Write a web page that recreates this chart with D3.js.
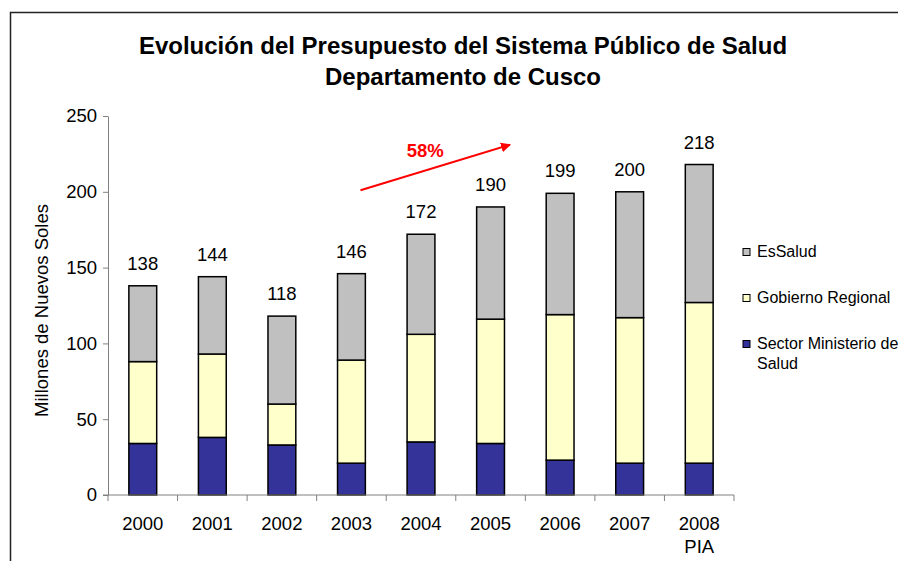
<!DOCTYPE html>
<html>
<head>
<meta charset="utf-8">
<script src="https://cdn.jsdelivr.net/npm/d3@7"></script>
<style>
  body { margin: 0; background: #fff; }
  svg { display: block; font-family: "Liberation Sans", Arial, sans-serif; }
</style>
</head>
<body>
<div id="chart"></div>
<script>
// Datos (millones de nuevos soles)
const years = ['2000', '2001', '2002', '2003', '2004', '2005', '2006', '2007', '2008'];
const yearSub = ['', '', '', '', '', '', '', '', 'PIA'];
const minsa = [34, 38, 33, 21, 35, 34, 23, 21, 21];
const gobierno = [54, 55, 27, 68, 71, 82, 96, 96, 106];
const essalud = [50, 51, 58, 57, 66, 74, 80, 83, 91];
const yTicks = [0, 50, 100, 150, 200, 250];

const seriesNames = ['Sector Ministerio de Salud', 'Gobierno Regional', 'EsSalud'];
const seriesColors = ['#333399', '#FFFFCC', '#C0C0C0'];

// flecha de crecimiento, en unidades de categoria / valor
const arrowFrom = [3.63, 201];
const arrowTo = [5.78, 231];
const arrowLabel = '58%';

const W = 898, H = 561;
const plot = { left: 108, right: 734, top: 116, bottom: 495 };

const svg = d3.select('#chart').append('svg')
  .attr('width', W)
  .attr('height', H);

// marco del grafico
svg.append('path')
  .attr('d', `M10.5,${H + 5} V12.5 H${W + 5}`)
  .attr('fill', 'none')
  .attr('stroke', '#222')
  .attr('stroke-width', 1.5);

// titulo
const title = svg.append('text')
  .attr('text-anchor', 'middle')
  .attr('font-weight', 'bold')
  .attr('font-size', 24)
  .attr('fill', '#000');
title.append('tspan').attr('x', 463).attr('y', 54).text('Evolución del Presupuesto del Sistema Público de Salud');
title.append('tspan').attr('x', 463).attr('y', 85).text('Departamento de Cusco');

const x = d3.scaleBand()
  .domain(years)
  .range([plot.left, plot.right])
  .paddingInner(0.6)
  .paddingOuter(0.3);

const xIdx = d3.scaleLinear()
  .domain([0, years.length])
  .range([plot.left, plot.right]);

const y = d3.scaleLinear()
  .domain([0, 250])
  .range([plot.bottom, plot.top]);

const table = years.map((yr, i) => ({ year: yr, minsa: minsa[i], gobierno: gobierno[i], essalud: essalud[i] }));
const stack = d3.stack().keys(['minsa', 'gobierno', 'essalud']);
const layers = stack(table);

// eje Y
const yAxis = svg.append('g')
  .attr('transform', `translate(${plot.left},0)`)
  .call(d3.axisLeft(y).tickValues(yTicks).tickSize(5).tickPadding(6).tickSizeOuter(0));
yAxis.select('.domain').attr('stroke', '#808080');
yAxis.selectAll('.tick line').attr('stroke', '#808080');
yAxis.selectAll('.tick text')
  .attr('font-size', 18.5)
  .attr('font-family', '"Liberation Sans", Arial, sans-serif')
  .attr('fill', '#000');

svg.append('text')
  .attr('transform', `translate(48,${(plot.top + plot.bottom) / 2 + 5}) rotate(-90)`)
  .attr('text-anchor', 'middle')
  .attr('font-size', 18.5)
  .text('Millones de Nuevos Soles');

// barras apiladas
svg.append('g')
  .selectAll('g')
  .data(layers)
  .join('g')
  .attr('fill', (d, i) => seriesColors[i])
  .selectAll('rect')
  .data(d => d)
  .join('rect')
  .attr('x', d => x(d.data.year))
  .attr('width', x.bandwidth())
  .attr('y', d => y(d[1]))
  .attr('height', d => y(d[0]) - y(d[1]))
  .attr('stroke', '#000')
  .attr('stroke-width', 1.5);

// eje X: linea, marcas entre categorias
const xAxis = svg.append('g');
xAxis.append('line')
  .attr('x1', plot.left - 5).attr('x2', plot.right)
  .attr('y1', plot.bottom).attr('y2', plot.bottom)
  .attr('stroke', '#808080');
xAxis.selectAll('line.tk')
  .data(d3.range(years.length + 1))
  .join('line')
  .attr('class', 'tk')
  .attr('x1', d => xIdx(d)).attr('x2', d => xIdx(d))
  .attr('y1', plot.bottom).attr('y2', plot.bottom + 6)
  .attr('stroke', '#808080');
const xl = xAxis.selectAll('text')
  .data(years)
  .join('text')
  .attr('text-anchor', 'middle')
  .attr('font-size', 18.5);
xl.append('tspan')
  .attr('x', d => x(d) + x.bandwidth() / 2)
  .attr('y', plot.bottom + 35)
  .text(d => d);
xl.append('tspan')
  .attr('x', d => x(d) + x.bandwidth() / 2)
  .attr('y', plot.bottom + 58)
  .text((d, i) => yearSub[i]);

// totales
svg.append('g')
  .selectAll('text')
  .data(table)
  .join('text')
  .attr('x', d => x(d.year) + x.bandwidth() / 2)
  .attr('y', d => y(d.minsa + d.gobierno + d.essalud) - 16)
  .attr('text-anchor', 'middle')
  .attr('font-size', 18.5)
  .text(d => d.minsa + d.gobierno + d.essalud);

// flecha 58%
svg.append('defs').append('marker')
  .attr('id', 'head')
  .attr('viewBox', '0 0 10 10')
  .attr('refX', 9).attr('refY', 5)
  .attr('markerWidth', 5).attr('markerHeight', 5)
  .attr('orient', 'auto')
  .append('path')
  .attr('d', 'M0,0 L10,5 L0,10 Z')
  .attr('fill', '#ff0000');

svg.append('line')
  .attr('x1', xIdx(arrowFrom[0])).attr('y1', y(arrowFrom[1]))
  .attr('x2', xIdx(arrowTo[0])).attr('y2', y(arrowTo[1]))
  .attr('stroke', '#ff0000')
  .attr('stroke-width', 2)
  .attr('marker-end', 'url(#head)');

svg.append('text')
  .attr('x', xIdx((arrowFrom[0] + arrowTo[0]) / 2) - 10)
  .attr('y', y((arrowFrom[1] + arrowTo[1]) / 2) - 11)
  .attr('text-anchor', 'middle')
  .attr('font-size', 18.5)
  .attr('font-weight', 'bold')
  .attr('fill', '#ff0000')
  .text(arrowLabel);

// leyenda
const legendItems = [
  { lines: ['EsSalud'], color: seriesColors[2], y: 252 },
  { lines: ['Gobierno Regional'], color: seriesColors[1], y: 298 },
  { lines: ['Sector Ministerio de', 'Salud'], color: seriesColors[0], y: 344 }
];
const lg = svg.append('g').selectAll('g')
  .data(legendItems)
  .join('g')
  .attr('transform', d => `translate(743,${d.y})`);
lg.append('rect')
  .attr('x', 0).attr('y', -3.5)
  .attr('width', 7).attr('height', 7)
  .attr('fill', d => d.color)
  .attr('stroke', '#000')
  .attr('stroke-width', 1);
lg.append('text')
  .attr('font-size', 16)
  .selectAll('tspan')
  .data(d => d.lines)
  .join('tspan')
  .attr('x', 14)
  .attr('y', (d, i) => 5 + i * 20)
  .text(d => d);
</script>
</body>
</html>
